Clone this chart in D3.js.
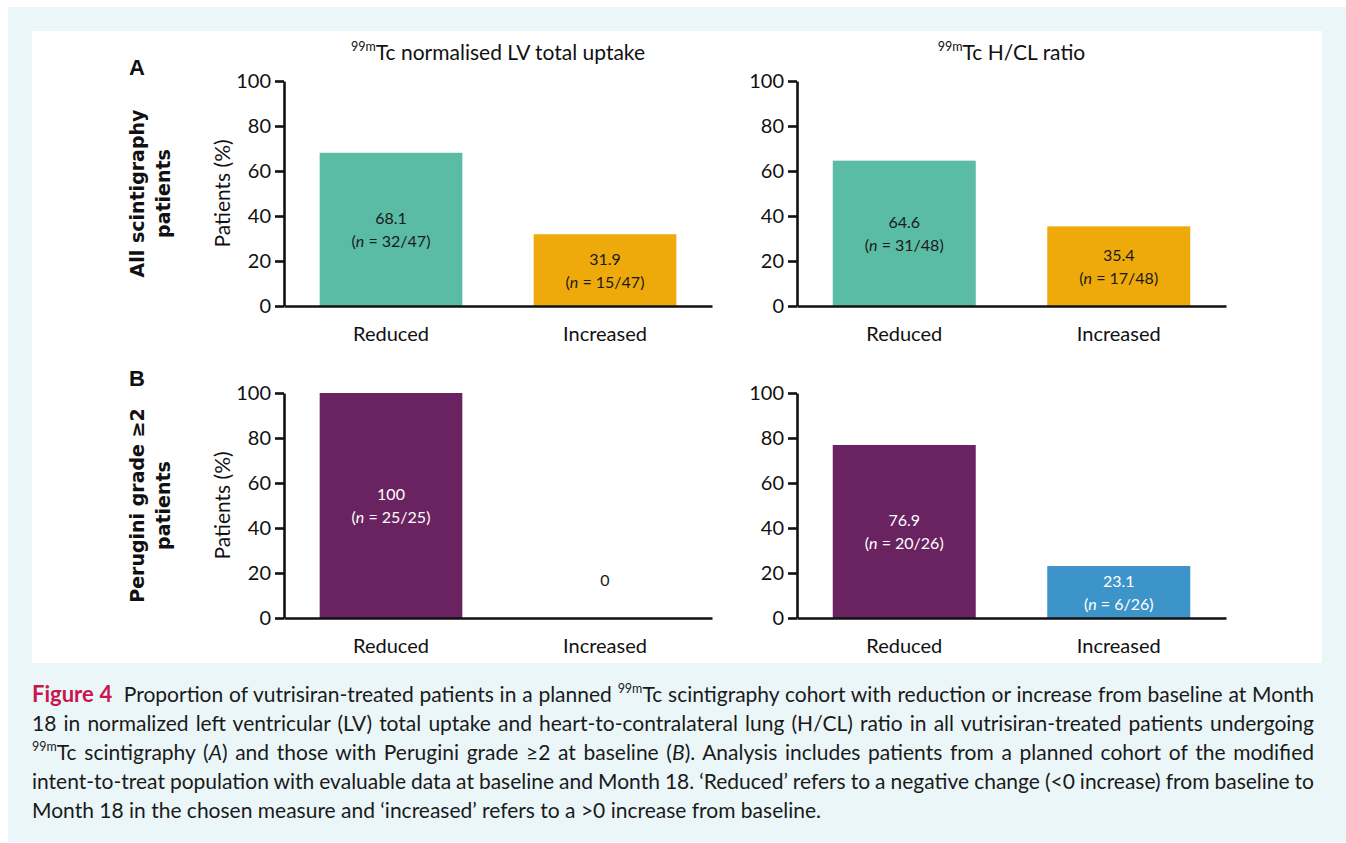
<!DOCTYPE html>
<html>
<head>
<meta charset="utf-8">
<script src="https://cdn.jsdelivr.net/npm/d3@7"></script>
<style>
  html, body { margin: 0; padding: 0; background: #ffffff; }
  svg { display: block; font-family: Lato, "Open Sans", sans-serif; }
  .axis path, .axis line { stroke: #111; stroke-width: 2.6; }
  .axis text { font-family: Lato, sans-serif; font-size: 20px; fill: #111; }
</style>
</head>
<body>
<script>
// ---- data ----
const categories = ["Reduced", "Increased"];
const yTicks = [0, 20, 40, 60, 80, 100];

const panelTitles = ["Tc normalised LV total uptake", "Tc H/CL ratio"];
const rowLetters = ["A", "B"];
const rowLabels = [["All scintigraphy", "patients"], ["Perugini grade \u22652", "patients"]];

// percentage of patients per category, with counts n/N
const lvAllPct = [68.1, 31.9];
const lvAllN = ["32/47", "15/47"];
const hclAllPct = [64.6, 35.4];
const hclAllN = ["31/48", "17/48"];
const lvPeruginiPct = [100, 0];
const lvPeruginiN = ["25/25", ""];
const hclPeruginiPct = [76.9, 23.1];
const hclPeruginiN = ["20/26", "6/26"];

const rowAColors = ["#5bbca5", "#eeaa0b"];
const rowBColors = ["#692360", "#3d94c9"];

const captionLines = [
  [{t:"Figure 4", b:true}, {t:"  Proportion of vutrisiran-treated patients in a planned "}, {t:"99m", sup:true}, {t:"Tc scintigraphy cohort with reduction or increase from baseline at Month"}],
  [{t:"18 in normalized left ventricular (LV) total uptake and heart-to-contralateral lung (H/CL) ratio in all vutrisiran-treated patients undergoing"}],
  [{t:"99m", sup:true}, {t:"Tc scintigraphy ("}, {t:"A", i:true}, {t:") and those with Perugini grade \u22652 at baseline ("}, {t:"B", i:true}, {t:"). Analysis includes patients from a planned cohort of the modified"}],
  [{t:"intent-to-treat population with evaluable data at baseline and Month 18. \u2018Reduced\u2019 refers to a negative change (<0 increase) from baseline to"}],
  [{t:"Month 18 in the chosen measure and \u2018increased\u2019 refers to a >0 increase from baseline."}]
];

// ---- layout ----
const W = 1346, H = 843;
const colRanges = [[284, 712], [797, 1226]];
const rowRanges = [[306, 81], [618, 393]];

const panels = [
  {row: 0, col: 0, values: lvAllPct, counts: lvAllN, colors: rowAColors, textFill: "#1a1a1a"},
  {row: 0, col: 1, values: hclAllPct, counts: hclAllN, colors: rowAColors, textFill: "#1a1a1a"},
  {row: 1, col: 0, values: lvPeruginiPct, counts: lvPeruginiN, colors: rowBColors, textFill: "#ffffff"},
  {row: 1, col: 1, values: hclPeruginiPct, counts: hclPeruginiN, colors: rowBColors, textFill: "#ffffff"}
];

const svg = d3.select("body").append("svg").attr("width", W).attr("height", H);

// frame: pale caption box with a white figure area
svg.append("rect").attr("x", 8).attr("y", 7).attr("width", W - 8).attr("height", H - 8).attr("fill", "#eaf6f8");
svg.append("rect").attr("x", 32).attr("y", 31).attr("width", 1290).attr("height", 632).attr("fill", "#ffffff");

// column titles
panelTitles.forEach((title, c) => {
  const cx = (colRanges[c][0] + colRanges[c][1]) / 2;
  const t = svg.append("text").attr("x", cx).attr("y", 60).attr("text-anchor", "middle")
    .attr("font-size", 21).attr("fill", "#111");
  t.append("tspan").attr("font-size", 12.5).attr("dy", -9).text("99m");
  t.append("tspan").attr("dy", 9).text(title);
});

// row letters and row labels
rowLetters.forEach((L, r) => {
  svg.append("text").attr("x", 137).attr("y", r === 0 ? 75 : 386).attr("text-anchor", "middle")
    .attr("font-weight", 700).attr("font-size", 22).attr("font-family", "Liberation Sans, Arial, sans-serif")
    .attr("fill", "#111").text(L);
  const cy = (rowRanges[r][0] + rowRanges[r][1]) / 2;
  rowLabels[r].forEach((line, k) => {
    svg.append("text").attr("transform", `translate(${144 + k * 26},${cy}) rotate(-90)`)
      .attr("text-anchor", "middle").attr("font-weight", 700).attr("font-size", 19)
      .attr("font-family", "DejaVu Sans, Verdana, sans-serif")
      .attr("fill", "#111").text(line);
  });
});

panels.forEach(p => {
  const x = d3.scaleBand().domain(categories).range(colRanges[p.col]).paddingInner(1 / 3).paddingOuter(1 / 6);
  const y = d3.scaleLinear().domain([0, 100]).range(rowRanges[p.row]);
  const g = svg.append("g");

  const data = categories.map((c, i) => ({cat: c, v: p.values[i], n: p.counts[i], color: p.colors[i]}));

  g.selectAll("rect.bar").data(data.filter(d => d.v > 0)).join("rect").attr("class", "bar")
    .attr("x", d => x(d.cat)).attr("width", x.bandwidth())
    .attr("y", d => y(d.v)).attr("height", d => y(0) - y(d.v))
    .attr("fill", d => d.color);

  // value labels centred inside each bar
  data.forEach(d => {
    const cx = x(d.cat) + x.bandwidth() / 2;
    if (d.v > 0) {
      const mid = (y(0) + y(d.v)) / 2;
      g.append("text").attr("x", cx).attr("y", mid - 11).attr("dy", "0.35em").attr("text-anchor", "middle")
        .attr("font-size", 16).attr("fill", p.textFill).text(d3.format("")(d.v));
      const t2 = g.append("text").attr("x", cx).attr("y", mid + 12).attr("dy", "0.35em").attr("text-anchor", "middle")
        .attr("font-size", 16).attr("fill", p.textFill);
      t2.append("tspan").text("(");
      t2.append("tspan").attr("font-style", "italic").text("n");
      t2.append("tspan").text(` = ${d.n})`);
    } else {
      g.append("text").attr("x", cx).attr("y", y(0) - 38).attr("dy", "0.35em").attr("text-anchor", "middle")
        .attr("font-size", 16).attr("fill", "#1a1a1a").text(d.v);
    }
  });

  // axes
  const yAxis = g.append("g").attr("class", "axis").attr("transform", `translate(${colRanges[p.col][0]},0)`)
    .call(d3.axisLeft(y).tickValues(yTicks).tickSize(9).tickSizeOuter(0).tickPadding(4));
  yAxis.selectAll("line").attr("stroke-width", 2.2);

  const xAxis = g.append("g").attr("class", "axis").attr("transform", `translate(0,${y(0)})`)
    .call(d3.axisBottom(x).tickSize(0).tickSizeOuter(0).tickPadding(21));
  xAxis.selectAll("text").attr("font-size", 20);

  if (p.col === 0) {
    svg.append("text").attr("transform", `translate(230,${(rowRanges[p.row][0] + rowRanges[p.row][1]) / 2}) rotate(-90)`)
      .attr("text-anchor", "middle").attr("font-size", 21).attr("fill", "#111").text("Patients (%)");
  }
});

// caption, justified to the box width except for the last line
const capLeft = 32, capRight = 1314, capTop = 702, capStep = 29;
captionLines.forEach((segs, li) => {
  const t = svg.append("text").attr("x", capLeft).attr("y", capTop + li * capStep)
    .attr("font-size", 21).attr("fill", "#1a1a1a").style("white-space", "pre");
  let raised = false;
  segs.forEach(s => {
    const ts = t.append("tspan").text(s.t);
    if (s.b) ts.attr("font-weight", 700).attr("fill", "#c8174f").attr("font-size", 22);
    if (s.i) ts.attr("font-style", "italic");
    if (s.sup) { ts.attr("font-size", 12.5).attr("dy", -9); raised = true; }
    else if (raised) { ts.attr("dy", 9); raised = false; }
  });
  if (li < captionLines.length - 1) {
    const natural = t.node().getComputedTextLength();
    const full = segs.map(s => s.t).join("");
    const spaces = (full.match(/ /g) || []).length;
    if (spaces > 0) t.attr("word-spacing", (capRight - capLeft - natural) / spaces);
  }
});
</script>
</body>
</html>
